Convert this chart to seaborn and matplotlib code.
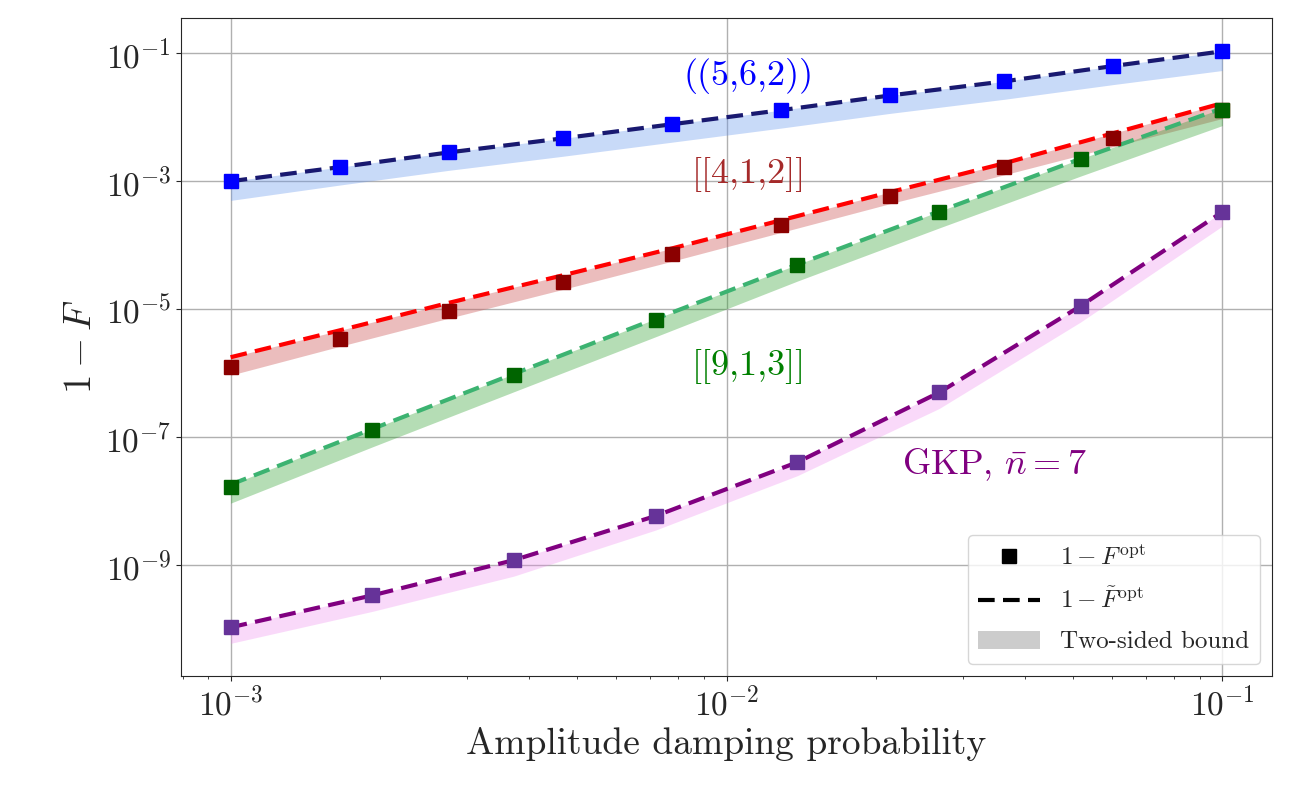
import numpy as np
import matplotlib
matplotlib.use("Agg")
import matplotlib.pyplot as plt
import seaborn as sns
from matplotlib.lines import Line2D
from matplotlib.patches import Patch

sns.set_style("ticks")
plt.rcParams['font.family'] = ['cmr10', 'DejaVu Serif']
plt.rcParams['mathtext.fontset'] = 'cm'
plt.rcParams['axes.formatter.use_mathtext'] = True

# log10 values
x10 = [-3.0, -2.78, -2.56, -2.33, -2.11, -1.89, -1.67, -1.44, -1.22, -1.0]
x8 = [-3.0, -2.714, -2.429, -2.143, -1.857, -1.571, -1.286, -1.0]

blue_pts = [-3.0, -2.78, -2.55, -2.33, -2.11, -1.89, -1.66, -1.44, -1.20, -0.97]
blue_line = [-3.0, -2.78, -2.55, -2.33, -2.11, -1.89, -1.66, -1.44, -1.20, -0.97]
blue_low = [-3.30, -3.06, -2.83, -2.61, -2.39, -2.17, -1.94, -1.72, -1.49, -1.27]

red_pts = [-5.91, -5.47, -5.03, -4.58, -4.14, -3.69, -3.23, -2.78, -2.33, -1.89]
red_line = [-5.75, -5.33, -4.90, -4.47, -4.05, -3.61, -3.17, -2.72, -2.25, -1.78]
red_low = [-6.03, -5.58, -5.14, -4.69, -4.25, -3.80, -3.35, -2.90, -2.46, -2.02]

green_pts = [-7.77, -6.89, -6.03, -5.17, -4.31, -3.48, -2.66, -1.88]
green_line = [-7.74, -6.87, -6.01, -5.15, -4.30, -3.47, -2.65, -1.86]
green_low = [-8.03, -7.15, -6.29, -5.43, -4.56, -3.73, -2.92, -2.13]

purple_pts = [-9.97, -9.47, -8.92, -8.23, -7.39, -6.30, -4.95, -3.48]
purple_line = [-9.97, -9.47, -8.92, -8.23, -7.39, -6.30, -4.95, -3.48]
purple_low = [-10.22, -9.72, -9.17, -8.45, -7.60, -6.55, -5.20, -3.70]

series = [
    (x10, blue_pts, blue_line, blue_low, '#0000ff', '#191970', 'cornflowerblue', 0.35),
    (x10, red_pts, red_line, red_low, '#8b0000', '#ff0000', 'indianred', 0.4),
    (x8, green_pts, green_line, green_low, '#006400', '#3cb371', '#2ca02c', 0.35),
    (x8, purple_pts, purple_line, purple_low, '#663399', '#800080', 'violet', 0.3),
]

fig = plt.figure(figsize=(12.99, 8.08), dpi=100)
ax = fig.add_axes([181/1299, 1-676/808, (1272-181)/1299, (676-18)/808])

for xs, pts, line, low, mc, lc, bc, a in series:
    X = 10**np.array(xs)
    ax.fill_between(X, 10**np.array(low), 10**np.array(line), color=bc, alpha=a, lw=0, zorder=1)
    sns.lineplot(x=X, y=10**np.array(line), ax=ax, color=lc, linestyle=(0, (4, 2)), lw=3, zorder=2)
    ax.plot(X, 10**np.array(pts), 's', color=mc, ms=10, zorder=3)

ax.set_xscale('log')
ax.set_yscale('log')
ax.set_xlim(10**-3.10, 10**-0.90)
ax.set_ylim(10**-10.73, 10**-0.45)
ax.set_yticks([1e-1, 1e-3, 1e-5, 1e-7, 1e-9])
ax.yaxis.set_minor_locator(matplotlib.ticker.NullLocator())
ax.grid(True, which='major', color='#b0b0b0', lw=1)
ax.tick_params(labelsize=24)
ax.set_xlabel('Amplitude damping probability', fontsize=27)
ax.set_ylabel('$1-F$', fontsize=28)

ax.text(10**-1.955, 10**-1.35, '((5,6,2))', color='#0000ff', fontsize=26, ha='center', va='center')
ax.text(10**-1.955, 10**-2.9, '[[4,1,2]]', color='#a52a2a', fontsize=26, ha='center', va='center')
ax.text(10**-1.955, 10**-5.9, '[[9,1,3]]', color='#008000', fontsize=26, ha='center', va='center')
ax.text(10**-1.46, 10**-7.43, r'GKP, $\bar{n}=7$', color='#800080', fontsize=26, ha='center', va='center')

handles = [
    Line2D([], [], marker='s', color='black', ls='none', ms=10),
    Line2D([], [], color='black', ls=(0, (4, 2)), lw=3),
    Patch(color='gray', alpha=0.4, lw=0),
]
labels = [r'$1-F^{\rm opt}$', r'$1-\tilde{F}^{\rm opt}$', 'Two-sided bound']
ax.legend(handles, labels, loc='lower right', fontsize=18, framealpha=0.8,
          handlelength=2.5, labelspacing=0.7)

fig.savefig('out.png', dpi=100)
